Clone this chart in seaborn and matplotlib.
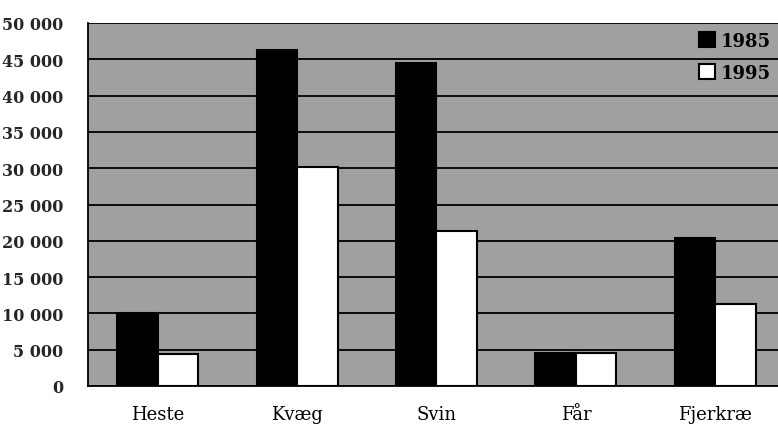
import matplotlib
matplotlib.use("Agg")
import matplotlib.pyplot as plt
import seaborn as sns
import pandas as pd
from matplotlib.patches import Patch
from matplotlib.ticker import FuncFormatter

categories = ["Heste", "Kvæg", "Svin", "Får", "Fjerkræ"]
years = ["1985", "1995"]
values_1985 = [10000, 46300, 44500, 4500, 20400]
values_1995 = [4400, 30200, 21300, 4600, 11300]
yticks = list(range(0, 50001, 5000))

df = pd.DataFrame({
    "Dyr": categories * 2,
    "År": [years[0]] * len(categories) + [years[1]] * len(categories),
    "Antal": values_1985 + values_1995,
})

sns.set_theme(style="white")
plt.rcParams['font.family'] = ['DejaVu Serif']

fig = plt.figure(figsize=(7.78, 4.27), dpi=100)
ax = fig.add_axes([88 / 778, 1 - 387 / 427, (785 - 88) / 778, (387 - 24) / 427])
ax.set_facecolor("#a0a0a0")

sns.barplot(data=df, x="Dyr", y="Antal", hue="År", hue_order=years,
            palette={"1985": "black", "1995": "white"}, saturation=1,
            width=0.58, edgecolor="black", linewidth=1.5, ax=ax, legend=False)

ax.set_ylim(0, 50000)
ax.set_xlim(-0.5, len(categories) - 0.5)
ax.set_yticks(yticks)
ax.yaxis.set_major_formatter(FuncFormatter(lambda v, p: f"{int(v):,}".replace(",", " ")))
ax.yaxis.grid(True, color="black", linewidth=1.3)
ax.set_axisbelow(True)

ax.set_xticks([i - 0.5 for i in range(len(categories) + 1)], minor=True)
ax.tick_params(axis="x", which="major", length=0, pad=14, labelsize=13)
ax.tick_params(axis="x", which="minor", length=7, width=1.3, color="black", direction="out")
ax.tick_params(axis="y", which="major", length=9, width=1.3, color="black", direction="out",
               labelsize=11.5, pad=9)
for lab in ax.get_yticklabels():
    lab.set_fontweight("bold")
for lab in ax.get_xticklabels():
    lab.set_color("black")

ax.set_xlabel("")
ax.set_ylabel("")
for s in ["top", "right"]:
    ax.spines[s].set_visible(False)
for s in ["left", "bottom"]:
    ax.spines[s].set_color("black")
    ax.spines[s].set_linewidth(1.3)

handles = [Patch(facecolor="black", edgecolor="black", linewidth=1.5),
           Patch(facecolor="white", edgecolor="black", linewidth=1.5)]
leg = ax.legend(handles, years, loc="upper left",
                bbox_to_anchor=(699 / 778, 1 - 33 / 427), bbox_transform=fig.transFigure,
                frameon=False, fontsize=13, handlelength=0.9, handleheight=0.9,
                handletextpad=0.3, labelspacing=0.75, borderaxespad=0, borderpad=0)
for t in leg.get_texts():
    t.set_color("black")
    t.set_fontweight("bold")

fig.savefig("out.png", dpi=100)
